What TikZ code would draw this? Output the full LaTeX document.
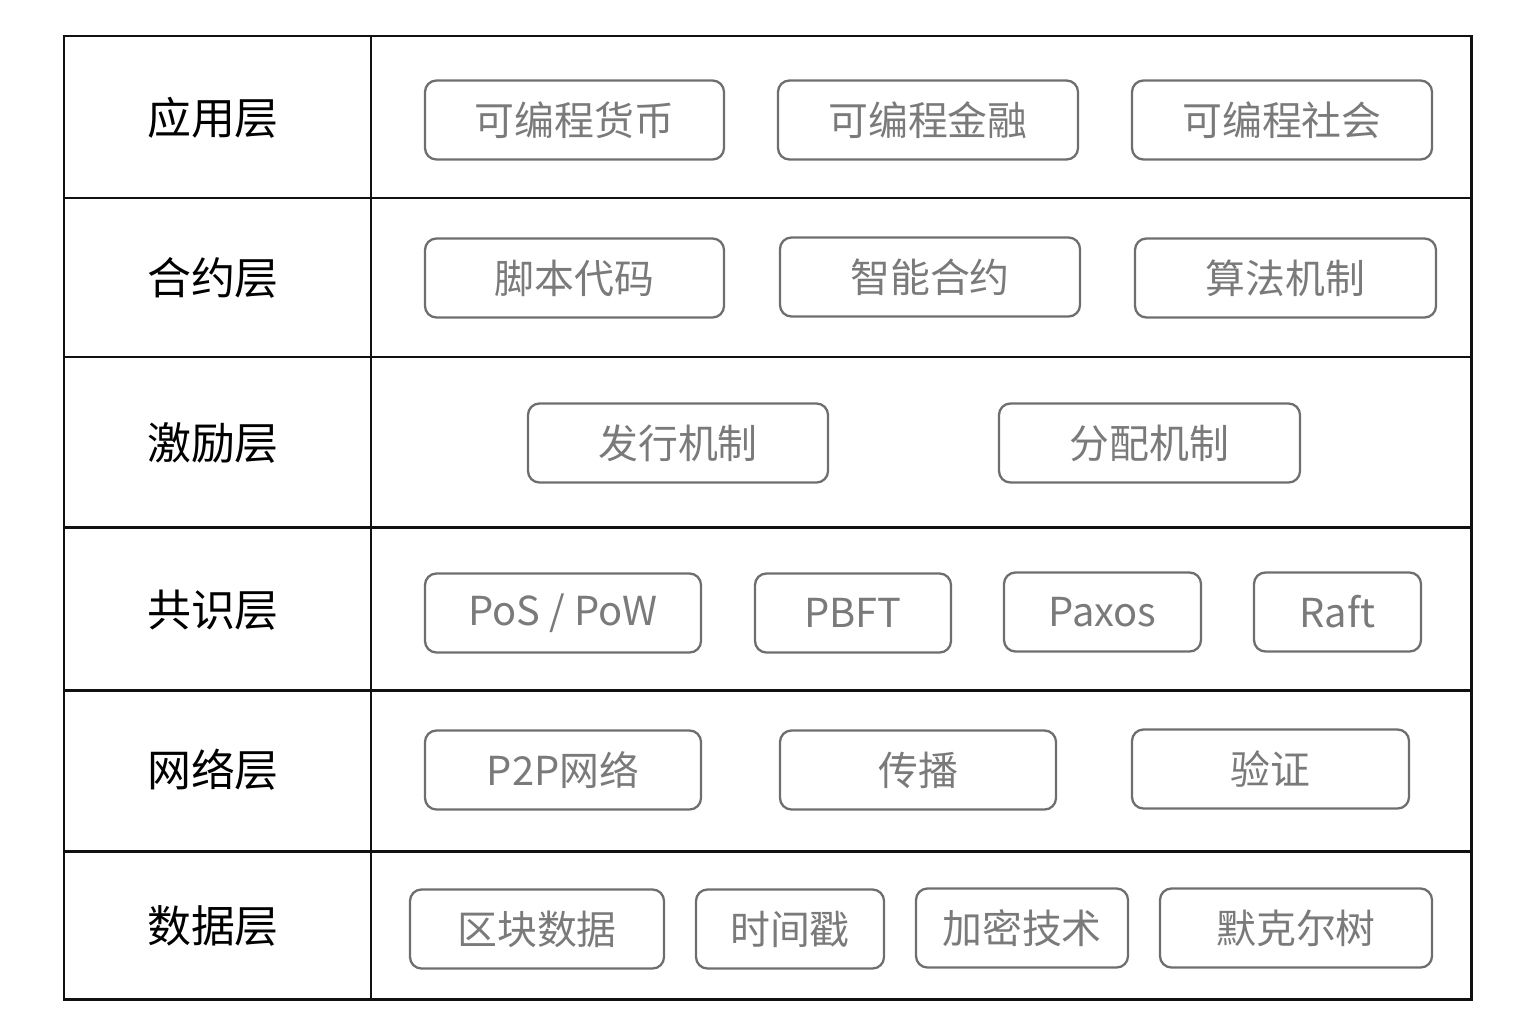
\documentclass[tikz,border=0pt]{standalone}
\usepackage{fontspec}
\usepackage{xcolor}
\usepackage{tikz}
\usetikzlibrary{positioning}
\newfontfamily\cjk{Noto Sans CJK SC}
\definecolor{gridc}{HTML}{111111}
\definecolor{boxc}{HTML}{6E6E6E}
\definecolor{txtc}{HTML}{7A7A7A}
\tikzset{
  grid/.style={line width=1.7pt,gridc},
  lay/.style={font=\cjk\fontsize{25}{29}\selectfont,text=black,inner sep=0pt},
  box/.style={draw=boxc,line width=1.3pt,rounded corners=6.5pt,text=txtc,
    minimum height=1.58cm,inner sep=0pt,font=\cjk\fontsize{22.7}{27}\selectfont}
}
\begin{document}
\begin{tikzpicture}[x=0.02cm,y=-0.02cm]
\useasboundingbox (0,0) rectangle (1530,1031);
% table frame
\draw[grid] (64,36) rectangle (1471,999);
\draw[grid] (371,36)--(371,999);
\foreach \yy in {198,357,527,690,851}
 \draw[grid] (64,\yy)--(1471,\yy);
% layer names
\foreach \i/\yy/\lab in {1/118/应用层,2/278/合约层,3/443/激励层,4/610/共识层,5/770/网络层,6/926/数据层}
 \node[lay] (r\i) at (213,\yy) {\lab};
% items
\foreach \i/\j/\cx/\cy/\w/\txt in {
 1/1/574.5/120/299/可编程货币,1/2/928/120/300/可编程金融,1/3/1282/120/300/可编程社会,
 2/1/574.5/278/299/脚本代码,2/2/930/277/300/智能合约,2/3/1285.5/278/301/算法机制,
 3/1/678/443/300/发行机制,3/2/1149.5/443/301/分配机制,
 4/1/563/613/276/{PoS / PoW},4/2/853/613/196/PBFT,4/3/1102.5/612/197/Paxos,4/4/1337.5/612/167/Raft,
 5/1/563/770/276/P2P网络,5/2/918/770/276/传播,5/3/1270.5/769/277/验证,
 6/1/537/929/254/区块数据,6/2/790/929/188/时间戳,6/3/1022/928/212/加密技术,6/4/1296/928/272/默克尔树}
 \node[box,minimum width=\w*0.02cm] (r\i b\j) at (\cx,\cy) {\txt};
\end{tikzpicture}
\end{document}
